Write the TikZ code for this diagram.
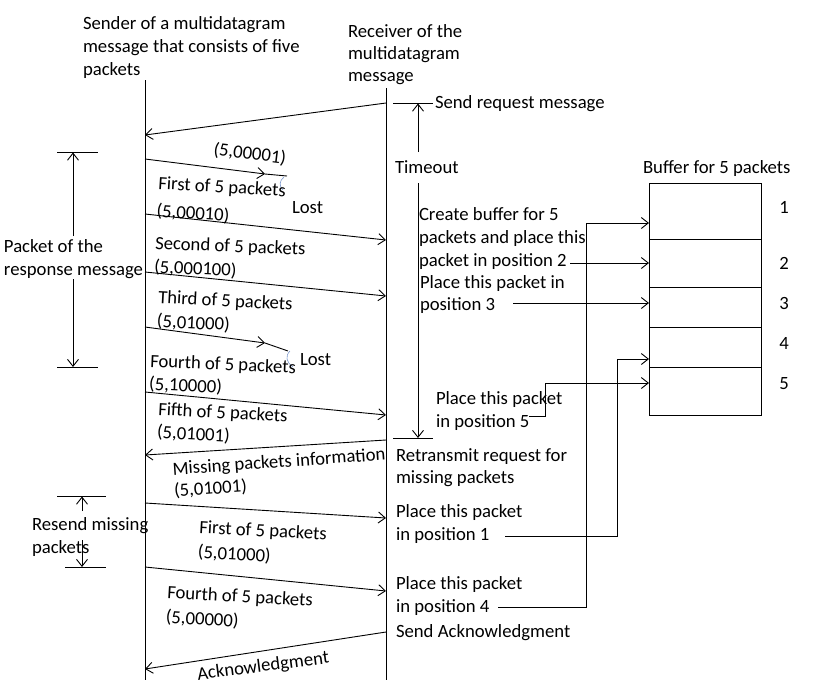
\documentclass[tikz,border=0pt]{standalone}
\usepackage{fontspec}
\setmainfont{Carlito}
\usetikzlibrary{arrows.meta}
\newcommand{\twoline}[3]{\begin{tabular}[t]{@{}l@{}}#1\\[#3]#2\end{tabular}}
\begin{document}
\begin{tikzpicture}[x=1pt,y=-1pt,
  every node/.style={font=\fontsize{18.7}{23}\selectfont, inner sep=0pt, outer sep=0pt, text=black},
  ln/.style={line width=0.9pt, draw=black},
  arr/.style={ln, -{Straight Barb[length=7pt,width=11pt,line width=0.9pt]}},
  lbl/.style={anchor=base west},
  lostmark/.style={draw={rgb,255:red,120;green,150;blue,205}, line width=0.6pt}
]
\useasboundingbox (0,0) rectangle (813,689);

% lifelines
\coordinate (sTop) at (145,80); \coordinate (sBot) at (145,680);
\coordinate (rTop) at (386,88); \coordinate (rBot) at (386,680);
\draw[ln] (sTop) -- (sBot);
\draw[ln] (rTop) -- (rBot);

% headers
\node[lbl] (hs1) at (83,29) {Sender of a multidatagram};
\node[lbl] (hs2) at (83,52) {message that consists of five};
\node[lbl] (hs3) at (83,75) {packets};
\node[lbl] (hr1) at (348,37) {Receiver of the};
\node[lbl] (hr2) at (348,59) {multidatagram};
\node[lbl] (hr3) at (348,81) {message};

% messages
\coordinate (m1a) at (386,103); \coordinate (m1b) at (145,135);
\draw[arr] (m1a) -- (m1b);
\coordinate (m2a) at (145,159); \coordinate (m2m) at (265,174); \coordinate (m2b) at (287,176);
\draw[arr] (m2a) -- (m2m); \draw[ln] (m2m) -- (m2b);
\coordinate (m3a) at (145,214); \coordinate (m3b) at (386,240);
\draw[arr] (m3a) -- (m3b);
\coordinate (m4a) at (145,272); \coordinate (m4b) at (386,296);
\draw[arr] (m4a) -- (m4b);
\coordinate (m5a) at (145,327); \coordinate (m5m) at (265,343); \coordinate (m5b) at (288,351);
\draw[arr] (m5a) -- (m5m); \draw[ln] (m5m) -- (m5b);
\coordinate (m6a) at (145,392); \coordinate (m6b) at (386,415);
\draw[arr] (m6a) -- (m6b);
\coordinate (m7a) at (386,440); \coordinate (m7b) at (145,455);
\draw[arr] (m7a) -- (m7b);
\coordinate (m8a) at (145,503); \coordinate (m8b) at (386,518);
\draw[arr] (m8a) -- (m8b);
\coordinate (m9a) at (145,567); \coordinate (m9b) at (386,591);
\draw[arr] (m9a) -- (m9b);
\coordinate (m10a) at (386,632); \coordinate (m10b) at (145,669);
\draw[arr] (m10a) -- (m10b);

% lost marks
\coordinate (l1a) at (284,177); \coordinate (l1b) at (283,190);
\draw[lostmark] (l1a) .. controls (279,181) and (279,186) .. (l1b);
\coordinate (l2a) at (290,351); \coordinate (l2b) at (293,367);
\draw[lostmark] (l2a) .. controls (285,356) and (286,362) .. (l2b);

% packet labels
\node[lbl,rotate=-7] (p0) at (213,155) {(5,00001)};
\node[lbl,rotate=-3.5] (p1) at (158,189) {\twoline{First of 5 packets}{(5,00010)}{5pt}};
\node[lbl] (lost1) at (292,213) {Lost};
\node[lbl,rotate=-2.3] (p2) at (155,249) {\twoline{Second of 5 packets}{(5,000100)}{1pt}};
\node[lbl,rotate=-3] (p3) at (158,303) {\twoline{Third of 5 packets}{(5,01000)}{1pt}};
\node[lbl,rotate=-2.5] (p4) at (150,367) {\twoline{Fourth of 5 packets}{(5,10000)}{0pt}};
\node[lbl] (lost2) at (300,365) {Lost};
\node[lbl,rotate=-3] (p5) at (158,415) {\twoline{Fifth of 5 packets}{(5,01001)}{0pt}};
\node[lbl,rotate=4] (p6) at (173,475) {\twoline{Missing packets information}{(5,01001)}{-1pt}};
\node[lbl,rotate=-3.2] (p7) at (199,533) {\twoline{First of 5 packets}{(5,01000)}{2pt}};
\node[lbl,rotate=-3.3] (p8) at (167,598) {\twoline{Fourth of 5 packets}{(5,00000)}{2pt}};
\node[lbl,rotate=7.3] (p9) at (198,680) {Acknowledgment};

% receiver-side timeline
\coordinate (tk1a) at (393,103); \coordinate (tk1b) at (433,103);
\draw[ln] (tk1a) -- (tk1b);
\node[lbl] (sendreq) at (435,108) {Send request message};
\coordinate (to1a) at (418,152); \coordinate (to1b) at (418,103.5);
\draw[arr] (to1a) -- (to1b);
\node[lbl] (timeout) at (395,173) {Timeout};
\coordinate (to2a) at (418,183); \coordinate (to2b) at (418,438);
\draw[arr] (to2a) -- (to2b);
\coordinate (tk2a) at (393,438); \coordinate (tk2b) at (433,438);
\draw[ln] (tk2a) -- (tk2b);

% receiver-side texts
\node[lbl] (c1) at (419,220) {Create buffer for 5};
\node[lbl] (c2) at (419,243) {packets and place this};
\node[lbl] (c3) at (419,266) {packet in position 2};
\node[lbl] (d1) at (420,288) {Place this packet in};
\node[lbl] (d2) at (420,310) {position 3};
\node[lbl] (e1) at (436,404) {Place this packet};
\node[lbl] (e2) at (436,427) {in position 5};
\node[lbl] (f1) at (396,461) {Retransmit request for};
\node[lbl] (f2) at (396,483) {missing packets};
\node[lbl] (g1) at (396,517) {Place this packet};
\node[lbl] (g2) at (396,540) {in position 1};
\node[lbl] (h1) at (396,589) {Place this packet};
\node[lbl] (h2) at (396,612) {in position 4};
\node[lbl] (ack) at (396,637) {Send Acknowledgment};

% buffer
\node[lbl] (buflbl) at (643,173) {Buffer for 5 packets};
\draw[ln] (649,183) rectangle (761,415);
\draw[ln] (649,239) -- (761,239);
\draw[ln] (649,287) -- (761,287);
\draw[ln] (649,327) -- (761,327);
\draw[ln] (649,367) -- (761,367);
\node[anchor=base] (n1) at (784,213) {1};
\node[anchor=base] (n2) at (784,269) {2};
\node[anchor=base] (n3) at (784,309) {3};
\node[anchor=base] (n4) at (784,349) {4};
\node[anchor=base] (n5) at (784,389) {5};

% buffer connectors
\coordinate (b2a) at (570,263); \coordinate (b2b) at (649,263);
\draw[arr] (b2a) -- (b2b);
\coordinate (b3a) at (513,303); \coordinate (b3b) at (649,303);
\draw[arr] (b3a) -- (b3b);
\coordinate (b5a) at (529,416); \coordinate (b5b) at (649,383);
\draw[arr] (b5a) -- (545,416) -- (545,383) -- (b5b);
\coordinate (b1a) at (505,536); \coordinate (b1b) at (649,359);
\draw[arr] (b1a) -- (617,536) -- (617,359) -- (b1b);
\coordinate (b4a) at (498,607); \coordinate (b4b) at (649,223);
\draw[arr] (b4a) -- (586,607) -- (586,223) -- (b4b);

% left brackets
\node[lbl] (pr1) at (4,252) {Packet of the};
\node[lbl] (pr2) at (4,275) {response message};
\coordinate (lb1a) at (57,152); \coordinate (lb1b) at (98,152);
\draw[ln] (lb1a) -- (lb1b);
\coordinate (la1) at (73,236); \coordinate (la1t) at (73,152.5);
\draw[arr] (la1) -- (la1t);
\coordinate (la2) at (73,279); \coordinate (la2t) at (73,367);
\draw[arr] (la2) -- (la2t);
\coordinate (lb2a) at (57,367); \coordinate (lb2b) at (98,367);
\draw[ln] (lb2a) -- (lb2b);

\node[lbl] (rs1) at (32,530) {Resend missing};
\node[lbl] (rs2) at (32,553) {packets};
\coordinate (rb1a) at (57,496); \coordinate (rb1b) at (106,496);
\draw[ln] (rb1a) -- (rb1b);
\coordinate (ra1) at (82,511); \coordinate (ra1t) at (82,496.5);
\draw[arr] (ra1) -- (ra1t);
\coordinate (ra2) at (82,540); \coordinate (ra2t) at (82,567);
\draw[arr] (ra2) -- (ra2t);
\coordinate (rb2a) at (65,567); \coordinate (rb2b) at (106,567);
\draw[ln] (rb2a) -- (rb2b);
\end{tikzpicture}
\end{document}
